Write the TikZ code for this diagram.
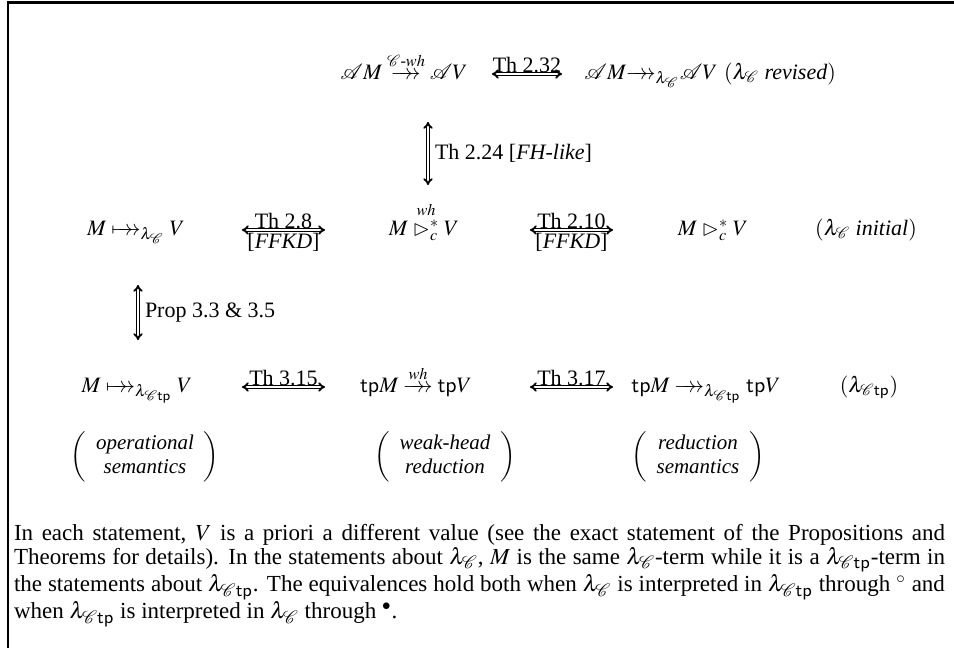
\documentclass[tikz,border=0pt]{standalone}
\usepackage{amsmath,amssymb}
\usepackage{mathptmx}
\usepackage{mathrsfs}
\usepackage{fontspec}
\setmainfont{Liberation Serif}
\usetikzlibrary{arrows.meta,calc}
\newcommand{\lC}{\lambda_{\mathscr{C}}}
\newcommand{\lCtp}{\lambda_{\mathscr{C}\mathsf{tp}}}
\newcommand{\thr}{\mathrel{\rightarrow\mkern-12mu\rightarrow}}
\newcommand{\thrt}{\mathord{\rightarrow\mkern-12mu\rightarrow}}
\newcommand{\opred}{\mathrel{\mapstochar\rightarrow\mkern-12mu\rightarrow}}
\begin{document}
\begin{tikzpicture}[x=0.5pt,y=-0.5pt,
  every node/.style={inner sep=0pt, outer sep=0pt, font=\fontsize{11}{12}\selectfont},
  term/.style={anchor=base},
  sem/.style={anchor=center, font=\fontsize{10.5}{12}\selectfont},
  eqv/.style={double, double distance=0.55pt, line width=0.9pt, {Implies[scale=1.6]}-{Implies[scale=1.6]}},
  notefont/.style={font=\fontsize{11.5}{11}\selectfont},
  frame/.style={line width=1.4pt}]
\useasboundingbox (0,0) rectangle (954,648);
\draw[frame] (8,648) -- (8,2.5) -- (954,2.5);

% row 1
\node[term] (r1a) at (404,79) {$\mathscr{A}M \overset{\mathscr{C}\text{-}\mathit{wh}}{\thr} \mathscr{A}V$};
\node[term] (r1b) at (651,79) {$\mathscr{A}M\thrt_{\lC}\mathscr{A}V$};
\node[term] (r1c) at (780,79) {$(\lC$ \textit{revised}$)$};

% row 2
\node[term] (r2a) at (136,235) {$M\opred_{\lC} V$};
\node[term] (r2b) at (424,235) {$M\mathrel{\overset{\mathit{wh}}{\vartriangleright^{*}_{c}}}V$};
\node[term] (r2c) at (713,235) {$M\vartriangleright^{*}_{c}V$};
\node[term] (r2d) at (866,235) {$(\lC$ \textit{initial}$)$};

% row 3
\node[term] (r3a) at (137,392) {$M\opred_{\lCtp} V$};
\node[term] (r3b) at (416,392) {$\mathsf{tp}M\overset{\mathit{wh}}{\thr}\mathsf{tp}V$};
\node[term] (r3c) at (706,392) {$\mathsf{tp}M\thr_{\lCtp}\mathsf{tp}V$};
\node[term] (r3d) at (869,392) {$(\lCtp)$};

% row 4
\node[sem] (s1) at (145,457) {$\left(\begin{array}{c}\textit{operational}\\ \textit{semantics}\end{array}\right)$};
\node[sem] (s2) at (445,457) {$\left(\begin{array}{c}\textit{weak-head}\\ \textit{reduction}\end{array}\right)$};
\node[sem] (s3) at (698,457) {$\left(\begin{array}{c}\textit{reduction}\\ \textit{semantics}\end{array}\right)$};

% horizontal equivalences
\draw[eqv] ($(r1a.base)+(44pt,2.5pt)$) -- ($(r1b.base)+(-44.5pt,2.5pt)$) node[midway,above=0.8pt]{Th 2.32};
\draw[eqv] ($(r2a.base)+(53pt,2.5pt)$) -- ($(r2b.base)+(-49.5pt,2.5pt)$) node[midway,above=0.8pt]{Th 2.8} node[midway,below=1.8pt]{[\textit{FFKD}]};
\draw[eqv] ($(r2b.base)+(53pt,2.5pt)$) -- ($(r2c.base)+(-50pt,2.5pt)$) node[midway,above=0.8pt]{Th 2.10} node[midway,below=1.8pt]{[\textit{FFKD}]};
\draw[eqv] ($(r3a.base)+(52.5pt,2.5pt)$) -- ($(r3b.base)+(-45.5pt,2.5pt)$) node[midway,above=0.8pt]{Th 3.15};
\draw[eqv] ($(r3b.base)+(57pt,2.5pt)$) -- ($(r3c.base)+(-46.5pt,2.5pt)$) node[midway,above=0.8pt]{Th 3.17};

% vertical equivalences
\draw[eqv] ($(r2b.base |- r1a.base)+(2pt,-21.5pt)$) -- ($(r2b.base)+(2pt,25pt)$) node[midway,right=3.5pt]{Th 2.24 [\textit{FH-like}]};
\draw[eqv] ($(r2a.base)+(1pt,-25pt)$) -- ($(r2a.base |- r3a.base)+(1pt,26pt)$) node[midway,right=3.5pt]{Prop 3.3 \& 3.5};

% note
\node[notefont, anchor=north west, text width=465.5pt, align=justify] (note) at (14,524) {\hyphenpenalty=10000 \exhyphenpenalty=10000 In each statement, $V$ is a priori a different value (see the exact statement of the Propositions and Theorems for details). In the statements about $\lC$, $M$ is the same $\lC$-term while it is a $\lCtp$-term in the statements about $\lCtp$. The equivalences hold both when $\lC$ is interpreted in $\lCtp$ through~$^{\circ}$ and when $\lCtp$ is interpreted in $\lC$ through~$^{\bullet}$.};
\end{tikzpicture}
\end{document}
